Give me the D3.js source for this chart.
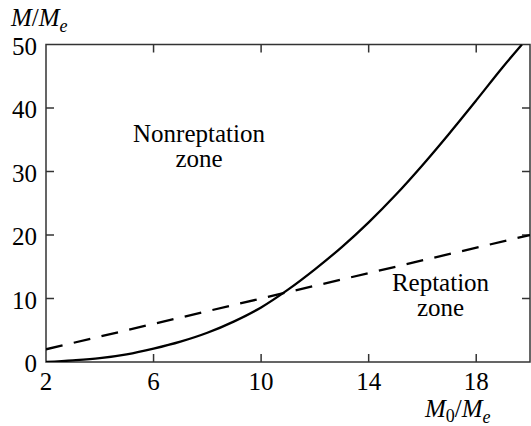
<!DOCTYPE html>
<html>
<head>
<meta charset="utf-8">
<script src="https://cdn.jsdelivr.net/npm/d3@7"></script>
<style>
  body { margin: 0; background: #fff; }
</style>
</head>
<body>
<svg id="chart" width="531" height="426"></svg>
<script>
// values
const m0 = [2, 3, 4, 5, 6, 7, 8, 9, 10, 11, 12, 13, 14, 15, 16, 17, 18, 19, 19.7];
const nonrept = [0, 0.25, 0.6, 1.2, 2.1, 3.2, 4.6, 6.4, 8.6, 11.4, 14.6, 18.1, 22.0, 26.3, 31.0, 36.0, 41.2, 46.5, 50];
const reptX = [2, 20];
const reptY = [2, 20];
const xTicks = [2, 6, 10, 14, 18];
const yTicks = [0, 10, 20, 30, 40, 50];

const serif = '"Liberation Serif", "Times New Roman", Times, "DejaVu Serif", serif';

const svg = d3.select('#chart').attr('font-family', serif);
const margin = { left: 46, right: 1, top: 44.5, bottom: 64 };
const W = 531, H = 426;

const x = d3.scaleLinear().domain([2, 20]).range([margin.left, W - margin.right]);
const y = d3.scaleLinear().domain([0, 50]).range([H - margin.bottom, margin.top]);

const axisColor = '#333';
const tickLen = 8;

// clip for the curves
svg.append('clipPath').attr('id', 'plotClip')
  .append('rect')
  .attr('x', x(2)).attr('y', y(50))
  .attr('width', x(20) - x(2)).attr('height', y(0) - y(50));

// frame
svg.append('rect')
  .attr('x', x(2)).attr('y', y(50))
  .attr('width', x(20) - x(2)).attr('height', y(0) - y(50))
  .attr('fill', 'none').attr('stroke', axisColor).attr('stroke-width', 1.5);

// inward ticks on all sides
const ticks = svg.append('g').attr('stroke', axisColor).attr('stroke-width', 1.5);
xTicks.filter(d => d > 2).forEach(d => {
  ticks.append('line').attr('x1', x(d)).attr('x2', x(d)).attr('y1', y(0)).attr('y2', y(0) - tickLen);
  ticks.append('line').attr('x1', x(d)).attr('x2', x(d)).attr('y1', y(50)).attr('y2', y(50) + tickLen);
});
yTicks.filter(d => d > 0 && d < 50).forEach(d => {
  ticks.append('line').attr('x1', x(2)).attr('x2', x(2) + tickLen).attr('y1', y(d)).attr('y2', y(d));
  ticks.append('line').attr('x1', x(20)).attr('x2', x(20) - tickLen).attr('y1', y(d)).attr('y2', y(d));
});

const fs = 25;

// tick labels
svg.append('g').selectAll('text').data(xTicks).join('text')
  .attr('font-family', serif)
  .attr('x', d => x(d)).attr('y', 390)
  .attr('text-anchor', 'middle').attr('font-size', fs)
  .text(d => d);

svg.append('g').selectAll('text').data(yTicks).join('text')
  .attr('font-family', serif)
  .attr('x', 37).attr('y', d => y(d) + 10)
  .attr('text-anchor', 'end').attr('font-size', fs)
  .text(d => d);

// curves
const plot = svg.append('g').attr('clip-path', 'url(#plotClip)');

const line = d3.line()
  .x(d => x(d[0]))
  .y(d => y(d[1]))
  .curve(d3.curveMonotoneX);

plot.append('path')
  .datum(m0.map((d, i) => [d, nonrept[i]]))
  .attr('d', line)
  .attr('fill', 'none').attr('stroke', '#000').attr('stroke-width', 2.3);

plot.append('path')
  .datum(reptX.map((d, i) => [d, reptY[i]]))
  .attr('d', d3.line().x(d => x(d[0])).y(d => y(d[1])))
  .attr('fill', 'none').attr('stroke', '#000').attr('stroke-width', 2.3)
  .attr('stroke-dasharray', '17,11.5');

// zone labels
const zone = (cx, by, lines) => {
  lines.forEach((t, i) => {
    svg.append('text').attr('font-family', serif)
      .attr('x', cx).attr('y', by + i * 25)
      .attr('text-anchor', 'middle').attr('font-size', fs).text(t);
  });
};
zone(199, 142, ['Nonreptation', 'zone']);
zone(440.5, 291, ['Reptation', 'zone']);

// axis titles
const yt = svg.append('text').attr('font-family', serif).attr('x', 11).attr('y', 26).attr('font-size', fs);
yt.append('tspan').attr('font-style', 'italic').text('M');
yt.append('tspan').text('/');
yt.append('tspan').attr('font-style', 'italic').text('M');
yt.append('tspan').attr('font-style', 'italic').attr('font-size', 18).attr('dy', 6).text('e');

const xt = svg.append('text').attr('font-family', serif).attr('x', 425).attr('y', 417).attr('font-size', fs);
xt.append('tspan').attr('font-style', 'italic').text('M');
xt.append('tspan').attr('font-size', 18).attr('dy', 5).text('0');
xt.append('tspan').attr('dy', -5).text('/');
xt.append('tspan').attr('font-style', 'italic').text('M');
xt.append('tspan').attr('font-style', 'italic').attr('font-size', 18).attr('dy', 6).text('e');
</script>
</body>
</html>
